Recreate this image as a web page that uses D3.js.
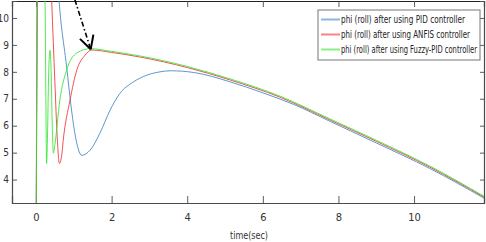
<!DOCTYPE html>
<html>
<head>
<meta charset="utf-8">
<script src="https://cdn.jsdelivr.net/npm/d3@7"></script>
<style>
  html, body { margin: 0; padding: 0; background: #fff; }
  svg { display: block; }
  .tick text { font-family: "Liberation Sans Narrow", "DejaVu Sans Condensed", "Liberation Sans", sans-serif; }
</style>
</head>
<body>
<script>
const WIDTH = 486;
const HEIGHT = 242;

// series (time in sec, phi value)
var tPID = [0, 0.05, 0.3, 0.5, 0.61, 0.81, 0.94, 1.06, 1.21, 1.43, 1.69, 1.96, 2.22, 2.57, 2.94, 3.28, 3.55, 4.2, 5.13, 6.0, 6.8, 7.78, 9.0, 10.42, 11.85];
var yPID = [0, 13, 16, 13, 10.63, 8.19, 6.58, 5.47, 4.9, 5.09, 5.72, 6.58, 7.2, 7.62, 7.88, 8.0, 8.04, 7.97, 7.63, 7.22, 6.80, 6.16, 5.36, 4.41, 3.31];

var tANFIS = [0, 0.05, 0.2, 0.35, 0.415, 0.5, 0.56, 0.62, 0.68, 0.72, 0.9, 1.08, 1.3, 1.47, 2.0, 2.75, 4.0, 5.13, 6.45, 7.78, 9.0, 10.42, 11.85];
var yANFIS = [0, 13, 16, 13, 10.63, 7.6, 5.6, 4.6, 4.9, 5.46, 6.95, 8.07, 8.62, 8.81, 8.72, 8.55, 8.16, 7.70, 7.06, 6.21, 5.42, 4.46, 3.35];

var tFuzzy = [0, 0.04, 0.12, 0.2, 0.24, 0.26, 0.28, 0.3, 0.34, 0.37, 0.40, 0.43, 0.46, 0.5, 0.63, 0.81, 1.08, 1.43, 2.0, 2.75, 4.0, 5.13, 6.45, 7.78, 9.0, 10.42, 11.85];
var yFuzzy = [0, 13, 15, 13, 10.63, 7.2, 4.6, 5.4, 8.2, 8.8, 8.0, 6.0, 4.98, 5.3, 6.95, 8.07, 8.7, 8.86, 8.76, 8.59, 8.2, 7.74, 7.10, 6.25, 5.46, 4.50, 3.38];

var seriesNames = ['phi (roll) after using PID controller', 'phi (roll) after using ANFIS controller', 'phi (roll) after using Fuzzy-PID controller'];
var seriesColors = ['#3f86c2', '#ee3434', '#33e633'];

var xTicks = [0, 2, 4, 6, 8, 10];
var yTicks = [4, 5, 6, 7, 8, 9, 10];
var xLabel = 'time(sec)';

// arrow annotation: from (t, phi) to (t, phi)
var arrowFrom = [1.03, 10.67];
var arrowTo = [1.447, 8.836];

var plotLeft = 12, plotRight = 484, plotTop = 1, plotBottom = 203;

var svg = d3.select('body').append('svg')
    .attr('width', WIDTH)
    .attr('height', HEIGHT);

var xScale = d3.scaleLinear().domain([-0.635, 11.85]).range([plotLeft, plotRight]);
var yScale = d3.scaleLinear().domain([3.13, 10.63]).range([plotBottom, plotTop]);

svg.append('defs').append('clipPath').attr('id', 'plotclip')
    .append('rect')
    .attr('x', plotLeft).attr('y', plotTop)
    .attr('width', plotRight - plotLeft).attr('height', plotBottom - plotTop);

// axes box with inward ticks
var axisColor = '#4a4a4a';
var fmt = function (d) { return d; };

var xAxis = svg.append('g')
    .attr('transform', 'translate(0,' + plotBottom + ')')
    .call(d3.axisBottom(xScale).tickValues(xTicks).tickSize(-7).tickPadding(10).tickFormat(fmt));
var xAxisTop = svg.append('g')
    .attr('transform', 'translate(0,' + plotTop + ')')
    .call(d3.axisTop(xScale).tickValues(xTicks).tickSize(-6).tickFormat(''));
var yAxis = svg.append('g')
    .attr('transform', 'translate(' + plotLeft + ',0)')
    .call(d3.axisLeft(yScale).tickValues(yTicks).tickSize(-5).tickPadding(3).tickFormat(fmt));
var yAxisRight = svg.append('g')
    .attr('transform', 'translate(' + plotRight + ',0)')
    .call(d3.axisRight(yScale).tickValues(yTicks).tickSize(-4).tickFormat(''));

[xAxis, xAxisTop, yAxis, yAxisRight].forEach(function (g) {
    g.select('.domain').attr('stroke', axisColor).attr('stroke-width', 1.2);
    g.selectAll('.tick line').attr('stroke', axisColor).attr('stroke-width', 0.9);
    g.selectAll('.tick text').attr('fill', '#333').attr('font-size', 11);
});
yAxis.selectAll('.tick text').attr('font-size', 10);
xAxisTop.select('.domain').attr('stroke', '#222');

svg.append('text')
    .attr('x', 249)
    .attr('y', 239)
    .attr('text-anchor', 'middle')
    .attr('font-family', '"Liberation Sans Narrow", "DejaVu Sans Condensed", "Liberation Sans", sans-serif')
    .attr('font-size', 11)
    .attr('fill', '#333')
    .attr('textLength', 38)
    .attr('lengthAdjust', 'spacingAndGlyphs')
    .text(xLabel);

var line = d3.line()
    .x(function (d) { return xScale(d[0]); })
    .y(function (d) { return yScale(d[1]); })
    .curve(d3.curveMonotoneX);

var series = [
    d3.zip(tPID, yPID),
    d3.zip(tANFIS, yANFIS),
    d3.zip(tFuzzy, yFuzzy)
];

var plot = svg.append('g').attr('clip-path', 'url(#plotclip)');
plot.selectAll('path.series')
    .data(series)
    .enter()
    .append('path')
    .classed('series', true)
    .attr('d', line)
    .attr('fill', 'none')
    .attr('stroke', function (d, i) { return seriesColors[i]; })
    .attr('stroke-width', 1)
    .attr('stroke-opacity', 0.85);

// arrow
var ax0 = xScale(arrowFrom[0]), ay0 = yScale(arrowFrom[1]);
var ax1 = xScale(arrowTo[0]), ay1 = yScale(arrowTo[1]);
svg.append('line')
    .attr('x1', ax0).attr('y1', ay0)
    .attr('x2', ax1).attr('y2', ay1)
    .attr('stroke', '#000')
    .attr('stroke-width', 1.6)
    .attr('stroke-dasharray', '5,2.5,1.5,2.5');
var ang = Math.atan2(ay0 - ay1, ax0 - ax1);
var headLen = 15, headAng = 28 * Math.PI / 180;
[-1, 1].forEach(function (s) {
    svg.append('line')
        .attr('x1', ax1).attr('y1', ay1)
        .attr('x2', ax1 + headLen * Math.cos(ang + s * headAng))
        .attr('y2', ay1 + headLen * Math.sin(ang + s * headAng))
        .attr('stroke', '#000')
        .attr('stroke-width', 2);
});

// legend
var legend = svg.append('g').attr('transform', 'translate(318,10)');
legend.append('rect')
    .attr('x', 0).attr('y', 0)
    .attr('width', 162).attr('height', 50)
    .attr('fill', '#fff')
    .attr('stroke', '#777')
    .attr('stroke-width', 1);
var textWidths = [124, 129, 136];
seriesNames.forEach(function (name, i) {
    var yy = 9.5 + i * 15;
    legend.append('line')
        .attr('x1', 3).attr('x2', 22)
        .attr('y1', yy).attr('y2', yy)
        .attr('stroke', seriesColors[i])
        .attr('stroke-opacity', 0.6)
        .attr('stroke-width', 2);
    legend.append('text')
        .attr('x', 23)
        .attr('y', yy + 3.5)
        .attr('font-family', '"Liberation Sans Narrow", "DejaVu Sans Condensed", "Liberation Sans", sans-serif')
        .attr('font-size', 10)
        .attr('fill', '#222')
        .attr('textLength', textWidths[i])
        .attr('lengthAdjust', 'spacingAndGlyphs')
        .text(name);
});
</script>
</body>
</html>
